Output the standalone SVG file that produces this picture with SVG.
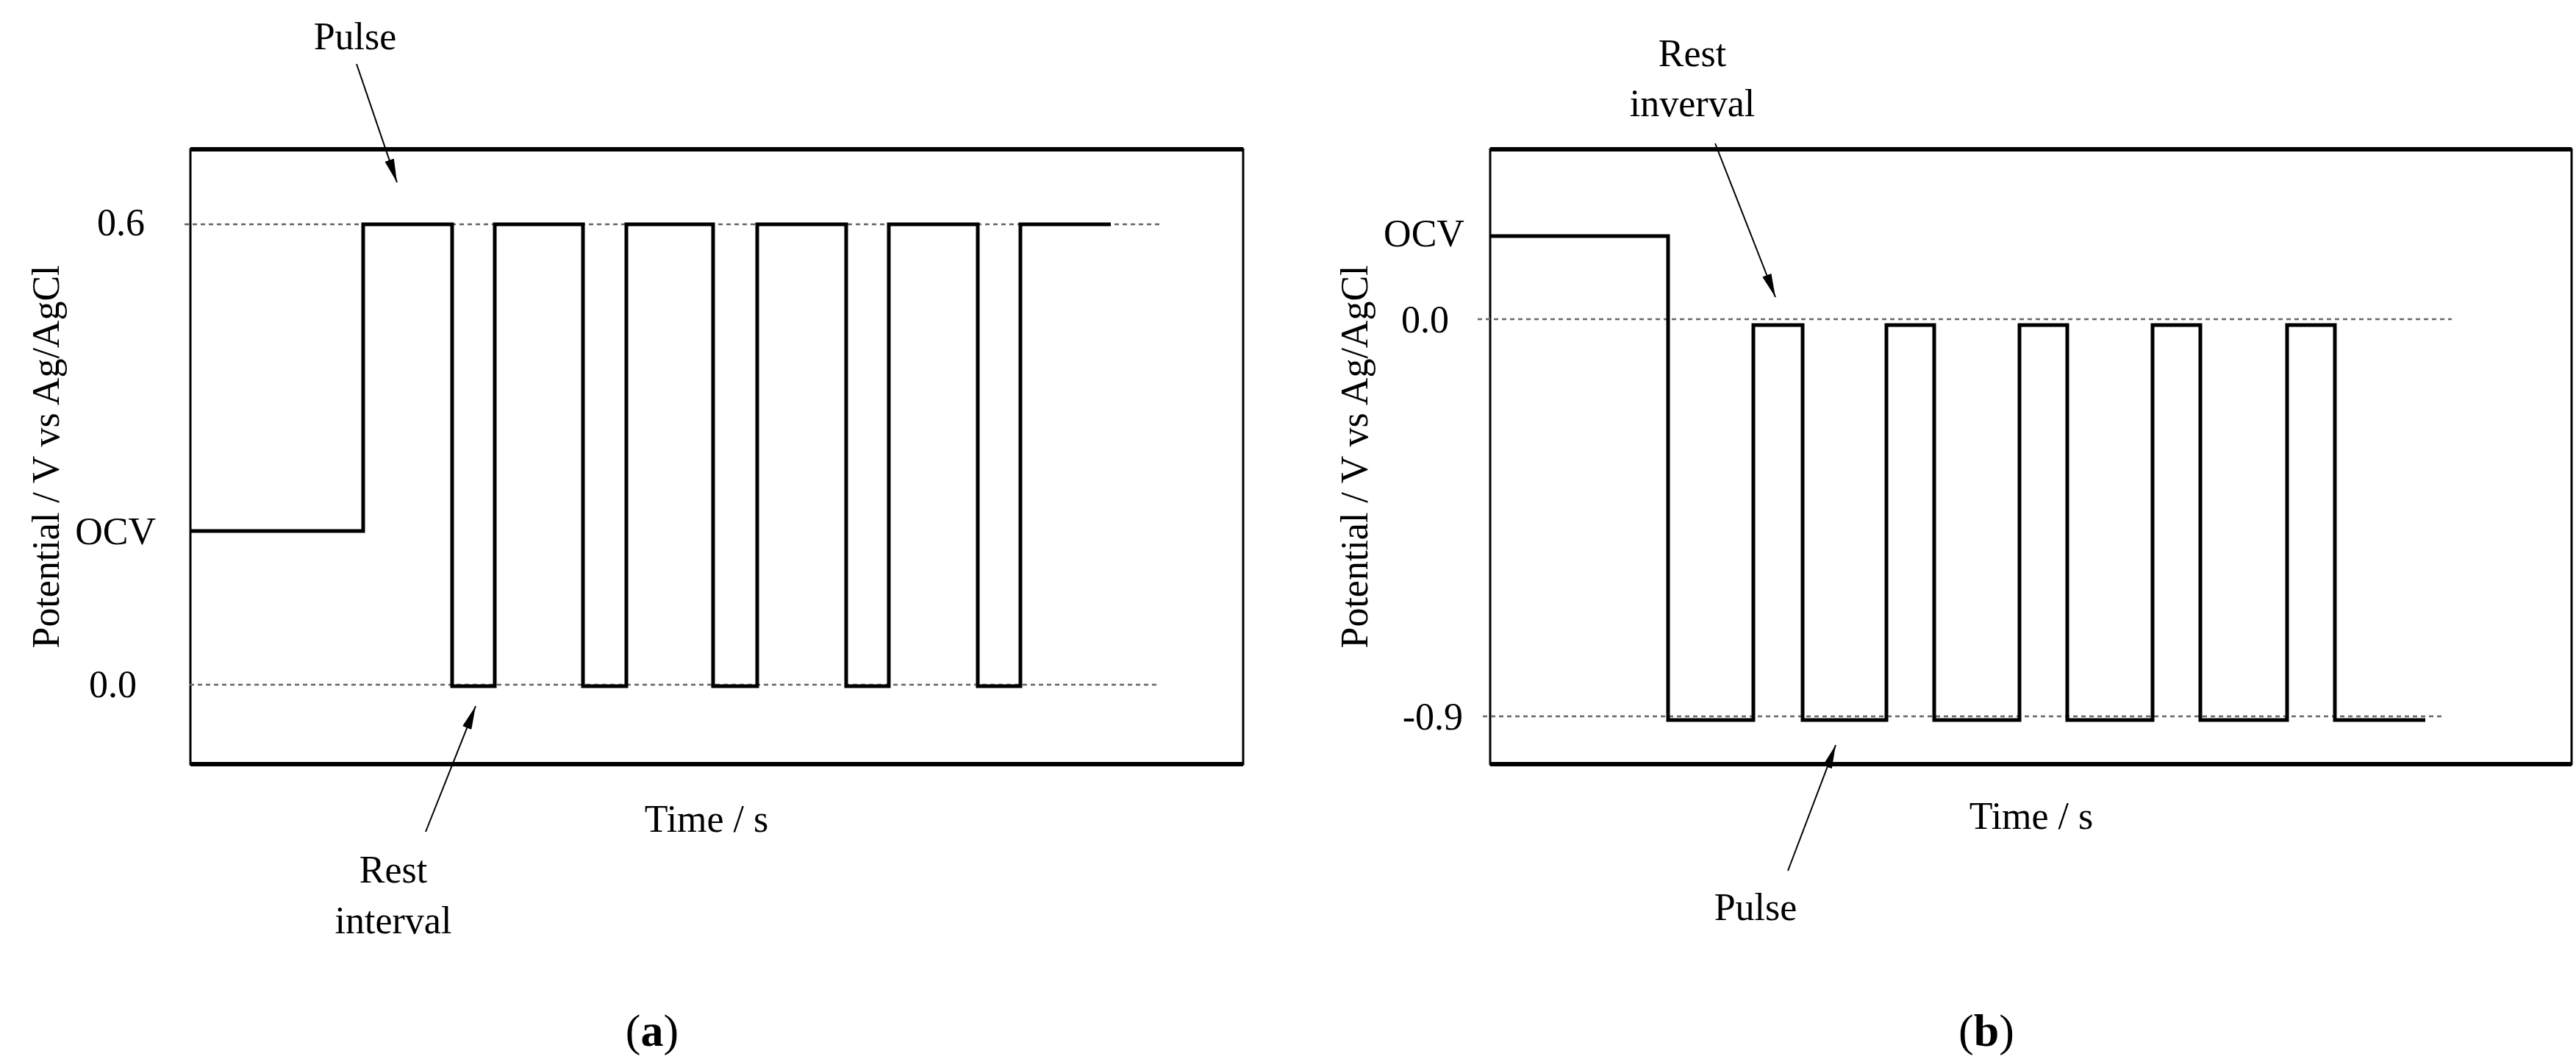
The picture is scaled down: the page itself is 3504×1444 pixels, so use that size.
<svg xmlns="http://www.w3.org/2000/svg" width="3504" height="1444" viewBox="0 0 3504 1444">
<style>
text{font-family:"Liberation Serif","Times New Roman",serif;font-size:52px;fill:#000}
.box{fill:none;stroke:#000;stroke-width:3}
.edge{stroke:#000;stroke-width:6}
.dash{stroke:#666;stroke-width:2.5;stroke-dasharray:6 5}
.wave{fill:none;stroke:#000;stroke-width:5;stroke-linejoin:miter}
.arr{stroke:#000;stroke-width:2;marker-end:url(#ah)}
.cap{font-size:62px}
</style>
<defs>
<marker id="ah" viewBox="0 0 10 10" refX="10" refY="5" markerWidth="32" markerHeight="13" markerUnits="userSpaceOnUse" orient="auto" preserveAspectRatio="none">
<path d="M0,0 L10,5 L0,10 z" fill="#000"/>
</marker>
</defs>
<g id="plot-a">
<rect class="box" x="259" y="203" width="1432" height="836"/>
<line class="edge" x1="259" y1="203" x2="1691" y2="203"/>
<line class="edge" x1="259" y1="1039" x2="1691" y2="1039"/>
<line class="dash" x1="251" y1="305" x2="1578" y2="305"/>
<line class="dash" x1="258" y1="931" x2="1578" y2="931"/>
<polyline class="wave" points="259,722 494,722 494,305 615,305 615,933 673,933 673,305 793,305 793,933 852,933 852,305 970,305 970,933 1030,933 1030,305 1151,305 1151,933 1209,933 1209,305 1330,305 1330,933 1388,933 1388,305 1511,305"/>
<text x="197" y="320" text-anchor="end">0.6</text>
<text x="212" y="740" text-anchor="end">OCV</text>
<text x="186" y="948" text-anchor="end">0.0</text>
<text transform="translate(80,621) rotate(-90)" text-anchor="middle">Potential / V vs Ag/AgCl</text>
<text x="961" y="1131" text-anchor="middle">Time / s</text>
<text x="887" y="1422" text-anchor="middle" class="cap">(<tspan font-weight="bold">a</tspan>)</text>
</g>
<g id="label-a-pulse"><text x="483" y="67" text-anchor="middle">Pulse</text></g>
<g id="label-a-rest"><text x="535" y="1200" text-anchor="middle">Rest</text><text x="535" y="1269" text-anchor="middle">interval</text></g>
<g id="plot-b">
<rect class="box" x="2027" y="203" width="1471" height="836"/>
<line class="edge" x1="2027" y1="203" x2="3498" y2="203"/>
<line class="edge" x1="2027" y1="1039" x2="3498" y2="1039"/>
<line class="dash" x1="2010" y1="434" x2="3335" y2="434"/>
<line class="dash" x1="2017" y1="974" x2="3325" y2="974"/>
<polyline class="wave" points="2027,321 2269,321 2269,979 2385,979 2385,442 2452,442 2452,979 2566,979 2566,442 2631,442 2631,979 2747,979 2747,442 2812,442 2812,979 2928,979 2928,442 2993,442 2993,979 3111,979 3111,442 3176,442 3176,979 3299,979"/>
<text x="1937" y="335" text-anchor="middle">OCV</text>
<text x="1971" y="452" text-anchor="end">0.0</text>
<text x="1990" y="992" text-anchor="end">-0.9</text>
<text transform="translate(1860,621) rotate(-90)" text-anchor="middle">Potential / V vs Ag/AgCl</text>
<text x="2763" y="1127" text-anchor="middle">Time / s</text>
<text x="2702" y="1422" text-anchor="middle" class="cap">(<tspan font-weight="bold">b</tspan>)</text>
</g>
<g id="label-b-rest"><text x="2302" y="90" text-anchor="middle">Rest</text><text x="2302" y="158" text-anchor="middle">inverval</text></g>
<g id="label-b-pulse"><text x="2388" y="1251" text-anchor="middle">Pulse</text></g>
<g id="connectors">
<line class="arr" x1="485" y1="87" x2="540" y2="248"/>
<line class="arr" x1="579" y1="1131" x2="647" y2="960"/>
<line class="arr" x1="2333" y1="195" x2="2415" y2="404"/>
<line class="arr" x1="2432" y1="1184" x2="2497" y2="1013"/>
</g>
</svg>
